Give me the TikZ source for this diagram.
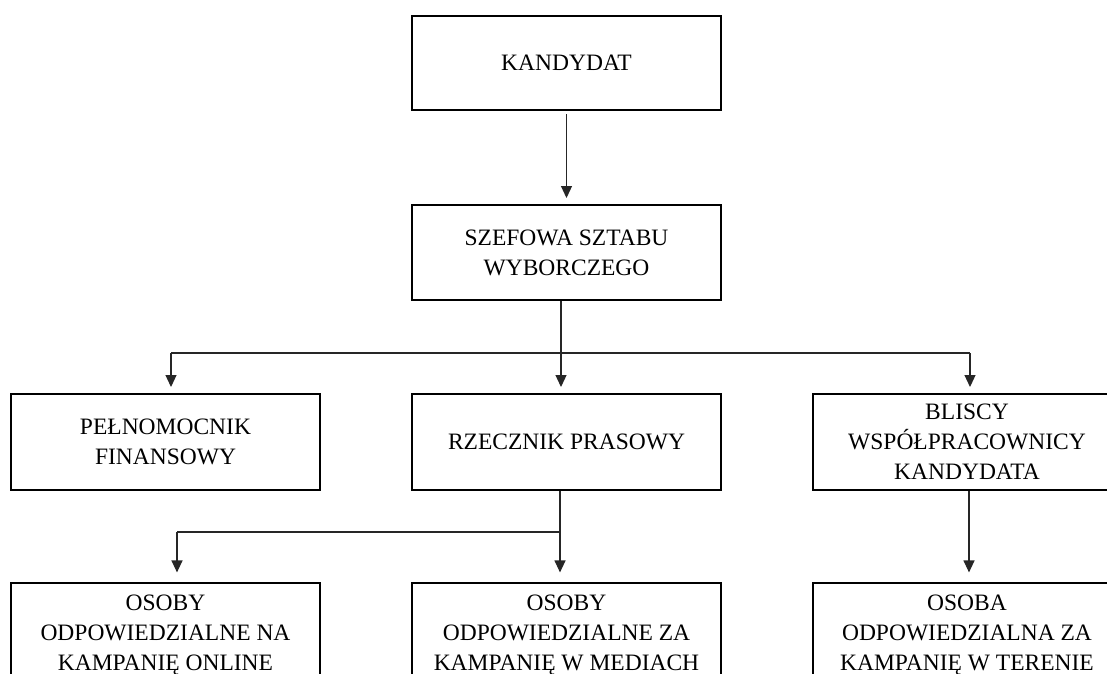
\documentclass[tikz,border=0pt]{standalone}
\usepackage{fontspec}
\setmainfont{Liberation Serif}
\usetikzlibrary{arrows.meta}

\tikzset{
  orgbox/.style={draw=black, line width=2pt, minimum width=309pt,
    align=center, inner sep=0pt,
    font=\fontsize{23.5}{30}\selectfont},
  link/.style={draw=black!85, line width=1.2pt},
  arrowlink/.style={link, -{Triangle[width=11pt,length=12pt]}, shorten >=6pt},
}

\begin{document}
\begin{tikzpicture}[x=1pt,y=-1pt]
  \useasboundingbox (0,0) rectangle (1107,673);
  \clip (0,0) rectangle (1107,673);

  % top of the hierarchy
  \node[orgbox, minimum height=94pt] (kand) at (566.5,63) {KANDYDAT};
  \node[orgbox, minimum height=95pt] (szef) at (566.5,252.5) {SZEFOWA SZTABU\\WYBORCZEGO};

  % second level
  \node[orgbox, minimum height=96pt] (pel)   at (165.5,442) {PEŁNOMOCNIK\\FINANSOWY};
  \node[orgbox, minimum height=96pt] (rzecz) at (566.5,442) {RZECZNIK PRASOWY};
  \node[orgbox, minimum height=96pt] (blis)  at (967,442)   {BLISCY\\WSPÓŁPRACOWNICY\\KANDYDATA};

  % third level
  \node[orgbox, inner ysep=11.5pt] (onl) at (165.5,635) {OSOBY\\ODPOWIEDZIALNE NA\\KAMPANIĘ ONLINE};
  \node[orgbox, inner ysep=11.5pt] (med) at (566.5,635) {OSOBY\\ODPOWIEDZIALNE ZA\\KAMPANIĘ W MEDIACH};
  \node[orgbox, inner ysep=11.5pt] (ter) at (967,635)   {OSOBA\\ODPOWIEDZIALNA ZA\\KAMPANIĘ W TERENIE};

  % junction points of the branching connectors
  \coordinate (j1)  at (561,353);
  \coordinate (j1l) at (171,353);
  \coordinate (j1r) at (970,353);
  \coordinate (j2)  at (560,532);
  \coordinate (j2l) at (177,532);

  % candidate -> campaign chief
  \draw[arrowlink, shorten <=3pt] (kand.south) -- (szef.north);

  % campaign chief -> second level
  \draw[link] (j1 |- szef.south) -- (j1);
  \draw[link] (j1l) -- (j1r);
  \draw[arrowlink] (j1l) -- (j1l |- pel.north);
  \draw[arrowlink] (j1)  -- (j1 |- rzecz.north);
  \draw[arrowlink] (j1r) -- (j1r |- blis.north);

  % press spokesman -> third level
  \draw[link] (j2 |- rzecz.south) -- (j2);
  \draw[link] (j2l) -- (j2);
  \draw[arrowlink, shorten >=10pt] (j2l) -- (j2l |- onl.north);
  \draw[arrowlink, shorten >=10pt] (j2)  -- (j2 |- med.north);

  % close collaborators -> field campaign
  \draw[arrowlink, shorten >=10pt] (blis.south -| j1r) ++(-1,0) -- (ter.north -| 969,0);
\end{tikzpicture}
\end{document}
